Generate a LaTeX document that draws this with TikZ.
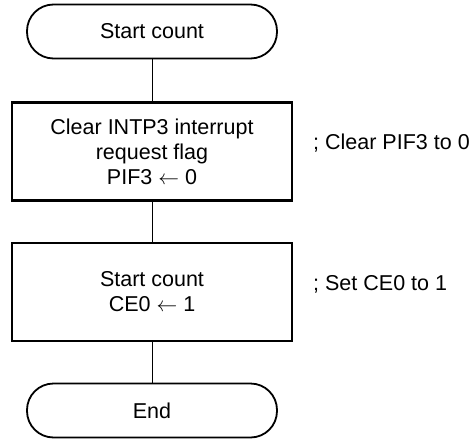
\documentclass[tikz,border=0pt]{standalone}
\usepackage{fontspec}
\setmainfont{Liberation Sans}
\begin{document}
\begin{tikzpicture}[x=1pt,y=-1pt,
  every node/.style={font=\fontsize{21.5}{25}\selectfont},
  term/.style={draw, line width=1.8pt, rounded corners=26.5pt, minimum width=250pt, minimum height=54pt, inner sep=0pt},
  proc/.style={draw, line width=2.4pt, minimum width=280pt, minimum height=98pt, align=center, inner sep=0pt},
  note/.style={anchor=west, inner sep=0pt},
  conn/.style={line width=0.9pt}]
\useasboundingbox (0,0) rectangle (470,438);
\node[term] (s) at (152,31.5) {Start count};
\node[proc] (b1) at (152,151.5) {Clear INTP3 interrupt\\request flag\\PIF3 $\leftarrow$ 0};
\node[proc] (b2) at (152,292) {Start count\\CE0 $\leftarrow$ 1};
\node[term] (e) at (152,410.5) {End};
\node[note] (n1) at (313,143) {; Clear PIF3 to 0};
\node[note] (n2) at (313,284) {; Set CE0 to 1};
\draw[conn] (s) -- (b1);
\draw[conn] (b1) -- (b2);
\draw[conn] (b2) -- (e);
\end{tikzpicture}
\end{document}
